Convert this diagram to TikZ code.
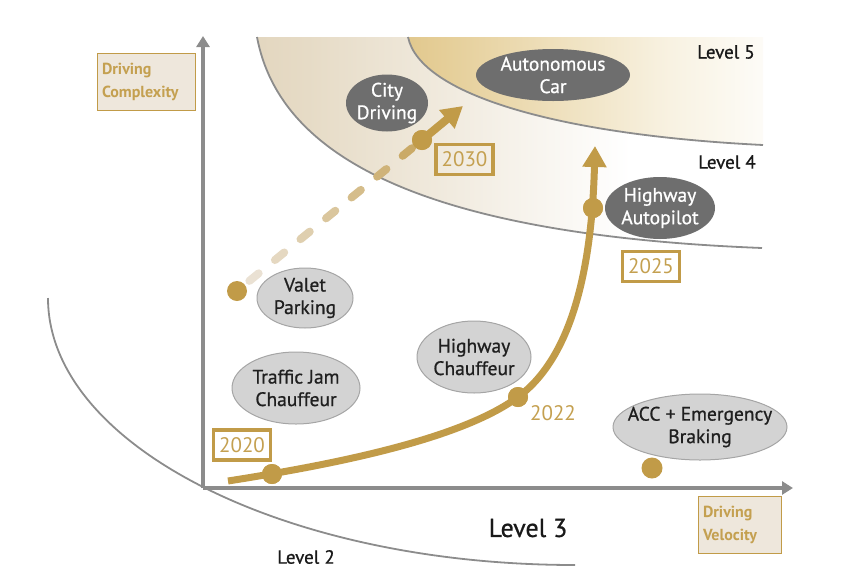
\documentclass[tikz,border=0pt]{standalone}
\usepackage{fontspec}
\setmainfont{PT Sans}
\newfontfamily\medfont{PT Sans}[FakeBold=0.8]
\usetikzlibrary{shapes.geometric,arrows.meta,calc}
\definecolor{gold}{HTML}{C19B48}
\definecolor{goldtxt}{HTML}{C4A050}
\definecolor{axisgray}{HTML}{8C8C8C}
\definecolor{darkell}{HTML}{6E6E6E}
\definecolor{lightell}{HTML}{D3D3D3}
\definecolor{ellborder}{HTML}{A5A5A5}
\definecolor{boxfill}{HTML}{EEE7DC}
\definecolor{dashlight}{HTML}{EAE1D3}
\definecolor{tanA}{HTML}{D4C19E}
\definecolor{tanB}{HTML}{E6DBC6}
\definecolor{goldA}{HTML}{D2AD5C}
\definecolor{goldB}{HTML}{E5CE98}
\definecolor{goldC}{HTML}{F8F2E2}
\pgfdeclarehorizontalshading{lvlfour}{100bp}{color(0bp)=(tanA); color(30bp)=(tanB); color(62bp)=(white); color(100bp)=(white)}
\pgfdeclarehorizontalshading{lvlfive}{100bp}{color(0bp)=(goldA); color(30bp)=(goldB); color(62bp)=(goldC); color(80bp)=(white); color(100bp)=(white)}
\tikzset{
  darkellipse/.style={ellipse, fill=darkell, draw=none, inner sep=0pt},
  lightellipse/.style={ellipse, fill=lightell, draw=ellborder, line width=1pt, inner sep=0pt},
  darktext/.style={text=white, align=center, inner sep=0pt, font=\medfont\fontsize{19.5}{22.5}\selectfont},
  lighttext/.style={text=black!88, align=center, inner sep=0pt, font=\medfont\fontsize{19.5}{22.5}\selectfont},
  yearbox/.style={draw=gold, line width=3.5pt, text=goldtxt, inner sep=0pt, minimum width=57pt, minimum height=30pt,
    font=\fontsize{21}{22}\selectfont},
  axisbox/.style={fill=boxfill, draw=gold, line width=0.9pt, text=goldtxt, align=left, inner sep=0pt,
    font=\bfseries\fontsize{16}{23}\selectfont},
  golddot/.style={circle, fill=gold, draw=none, minimum size=20pt, inner sep=0pt},
  lvltext/.style={text=black!90, inner sep=0pt},
  axisline/.style={draw=axisgray, line width=4pt, -{Triangle[width=13pt,length=11pt]}},
  levelline/.style={draw=axisgray, line width=1.8pt},
  goldline/.style={draw=gold, line width=7pt},
  goldtip/.style={-{Triangle[width=23pt,length=21pt]}}
}
\begin{document}
\begin{tikzpicture}[x=1pt,y=-1pt]
\useasboundingbox (0,0) rectangle (862,587);

% level regions
\shade[shading=lvlfour] (257,37) .. controls (280,160) and (430,235) .. (762,248) -- (762,37) -- cycle;
\shade[shading=lvlfive] (408,37) .. controls (420,95) and (560,135) .. (763,145) -- (763,37) -- cycle;
\draw[levelline] (257,37) .. controls (280,160) and (430,235) .. (762,248);
\draw[levelline] (408,37) .. controls (420,95) and (560,135) .. (763,145);
\draw[levelline] (48,298) .. controls (48,445) and (284,565) .. (575,565);

% axes
\coordinate (origin) at (203,488);
\coordinate (ytip) at (203,36);
\coordinate (xtip) at (793,488);
\draw[axisline] (origin) -- (ytip);
\draw[axisline] (origin) -- (xtip);

% axis labels
\node[axisbox, minimum width=98pt, minimum height=57pt, text width=88pt] (ylab) at (146,81.5) {Driving\\Complexity};
\node[axisbox, minimum width=83pt, minimum height=57pt, text width=73pt] (xlab) at (739.5,524.5) {Driving\\Velocity};

% level labels
\node[lvltext, font=\medfont\fontsize{19}{20}\selectfont] (l5) at (726,52) {Level 5};
\node[lvltext, font=\medfont\fontsize{19}{20}\selectfont] (l4) at (727,162) {Level 4};
\node[lvltext, font=\medfont\fontsize{26}{28}\selectfont] (l3) at (528,528) {Level 3};
\node[lvltext, font=\medfont\fontsize{19}{20}\selectfont] (l2) at (306,557) {Level 2};

% ellipses
\node[darkellipse, minimum width=82pt, minimum height=57pt, label={[darktext]center:{City\\Driving}}] (city) at (387,103) {};
\node[darkellipse, minimum width=154pt, minimum height=52pt, label={[darktext]center:{Autonomous\\Car}}] (auto) at (553,75) {};
\node[darkellipse, minimum width=110pt, minimum height=62pt, label={[darktext]center:{Highway\\Autopilot}}] (hap) at (660,208) {};
\node[lightellipse, minimum width=96pt, minimum height=60pt, label={[lighttext]center:{Valet\\Parking}}] (valet) at (305,298) {};
\node[lightellipse, minimum width=128pt, minimum height=72pt, label={[lighttext]center:{Traffic Jam\\Chauffeur}}] (tjc) at (296,388) {};
\node[lightellipse, minimum width=114pt, minimum height=72pt, label={[lighttext]center:{Highway\\Chauffeur}}] (hch) at (474,357) {};
\node[lightellipse, minimum width=174pt, minimum height=66pt, label={[lighttext]center:{ACC + Emergency\\Braking}}] (acc) at (700,427) {};

% dots
\node[golddot] (dv) at (237,291) {};
\node[golddot] (d30) at (422,140) {};
\node[golddot] (d20) at (272,474) {};
\node[golddot] (d22) at (518,397) {};
\node[golddot] (d25) at (593,208) {};
\node[golddot, minimum size=21pt] (dacc) at (652,468) {};

% 2030 dashed gradient arrow
\foreach \i in {0,...,6}{
  \pgfmathsetmacro{\ta}{(16+33*\i)/239}
  \pgfmathsetmacro{\tb}{\ta+12/239}
  \pgfmathtruncatemacro{\p}{100-\i*13}
  \draw[line width=8pt, line cap=round, color=dashlight!\p!gold]
    ($(dv.center)!\ta!(d30.center)$) -- ($(dv.center)!\tb!(d30.center)$);
}
\coordinate (t30) at (463,106);
\draw[goldline, line width=8pt, goldtip] (d30.center) -- (t30);
\node[golddot] at (d30) {};

% main curve
\coordinate (c0) at (228,481);
\coordinate (t25) at (595,146);
\draw[goldline, goldtip] (c0) .. controls (330,465) and (460,440) .. (d22.center)
  .. controls (575,355) and (592,260) .. (t25);
\node[golddot] at (d20) {};
\node[golddot] at (d22) {};
\node[golddot] at (d25) {};

% year labels
\node[yearbox] (y30) at (464.5,159.5) {2030};
\node[yearbox] (y25) at (651,266.5) {2025};
\node[yearbox] (y20) at (242,445) {2020};
\node[text=goldtxt, font=\fontsize{21}{22}\selectfont, inner sep=0pt] (y22) at (553,413) {2022};
\end{tikzpicture}
\end{document}
